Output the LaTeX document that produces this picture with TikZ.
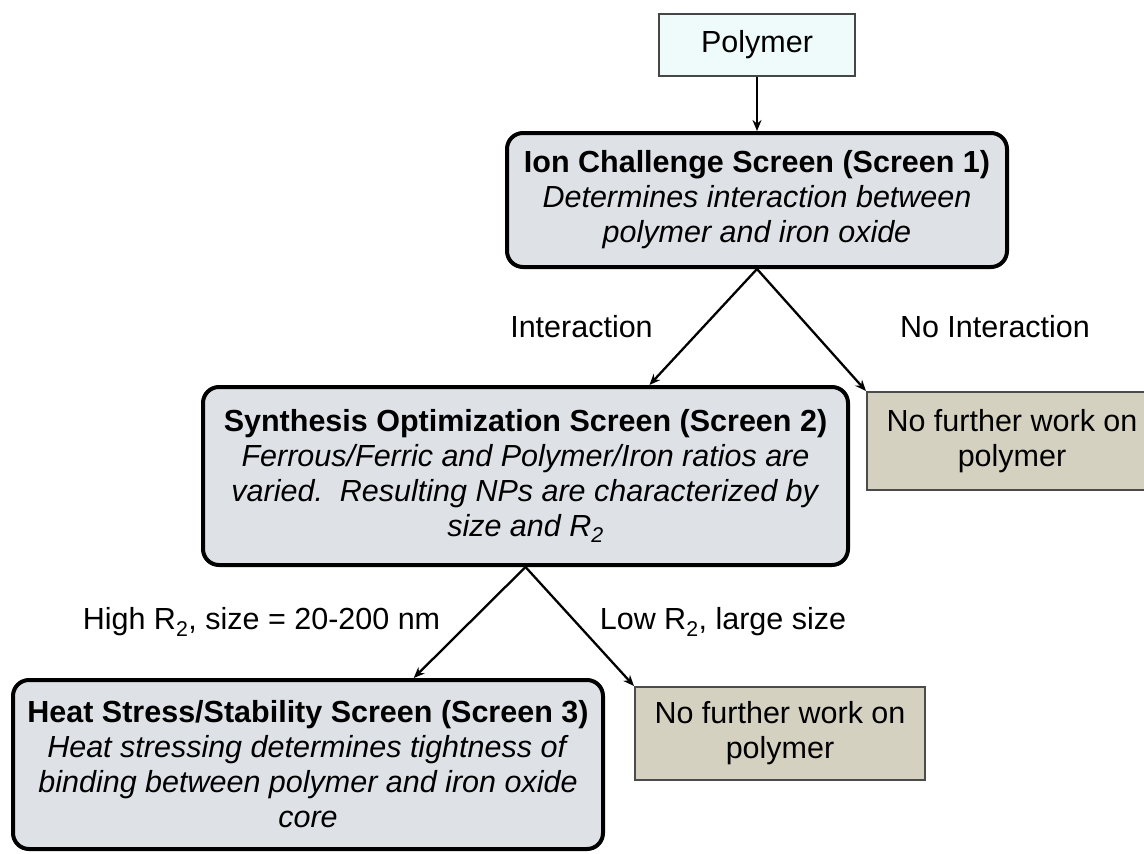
\documentclass[tikz,border=0pt]{standalone}
\usepackage{fontspec}
\setmainfont{Liberation Sans}
\usetikzlibrary{arrows.meta,calc}

\definecolor{polyfill}{RGB}{238,251,250}
\definecolor{polyline}{RGB}{70,70,70}
\definecolor{screenfill}{RGB}{222,226,231}
\definecolor{stopfill}{RGB}{212,209,193}
\definecolor{stopline}{RGB}{75,75,75}

\tikzset{
  txt/.style={font=\fontsize{30.5}{35}\selectfont, align=center, inner sep=0pt},
  startbox/.style={txt, draw=polyline, fill=polyfill, line width=2pt,
    minimum width=196pt, minimum height=62pt},
  screenbox/.style={txt, draw=black, fill=screenfill, line width=4pt,
    rounded corners=16pt},
  stopbox/.style={txt, draw=stopline, fill=stopfill, line width=2pt,
    minimum width=290pt},
  flow/.style={-{Stealth[length=11pt,width=9pt]}, line width=2.3pt},
  lbl/.style={txt}
}

\begin{document}
\begin{tikzpicture}[x=1pt,y=-1pt]
\useasboundingbox (0,0) rectangle (1144,854);

% boxes
\node[startbox] (poly) at (757,45) {Polymer};

\node[screenbox, minimum width=500pt, minimum height=134pt] (s1) at (757,200)
  {\textbf{Ion Challenge Screen (Screen 1)}\\
   \textit{Determines interaction between}\\
   \textit{polymer and iron oxide}};

\node[screenbox, minimum width=645pt, minimum height=178pt] (s2) at (525.5,476)
  {\textbf{Synthesis Optimization Screen (Screen 2)}\\
   \textit{Ferrous/Ferric and Polymer/Iron ratios are}\\
   \textit{varied.~~Resulting NPs are characterized by}\\
   \textit{size and R\textsubscript{2}}};

\node[screenbox, minimum width=590pt, minimum height=169pt] (s3) at (308,764.5)
  {\textbf{Heat Stress/Stability Screen (Screen 3)}\\
   \textit{Heat stressing determines tightness of}\\
   \textit{binding between polymer and iron oxide}\\
   \textit{core}};

\node[stopbox, minimum height=98pt] (stop1) at (1012,441)
  {No further work on\\polymer};
\node[stopbox, minimum height=93pt] (stop2) at (780,733.5)
  {No further work on\\polymer};

% branch labels
\node[lbl] (lint) at (581.5,327) {Interaction};
\node[lbl] (lnoint) at (995,327) {No Interaction};
\node[lbl] (lhigh) at (261.5,622) {High R\textsubscript{2}, size = 20-200 nm};
\node[lbl] (llow) at (723,622) {Low R\textsubscript{2}, large size};

% connectors
\draw[flow] (poly.south) -- (s1.north);
\draw[flow] (s1.south) -- ($(s2.north west)!0.691!(s2.north east)$);
\draw[flow] (s1.south) -- (stop1.north west);
\draw[flow] (s2.south) -- ($(s3.north west)!0.678!(s3.north east)$);
\draw[flow] (s2.south) -- (stop2.north west);
\end{tikzpicture}
\end{document}
